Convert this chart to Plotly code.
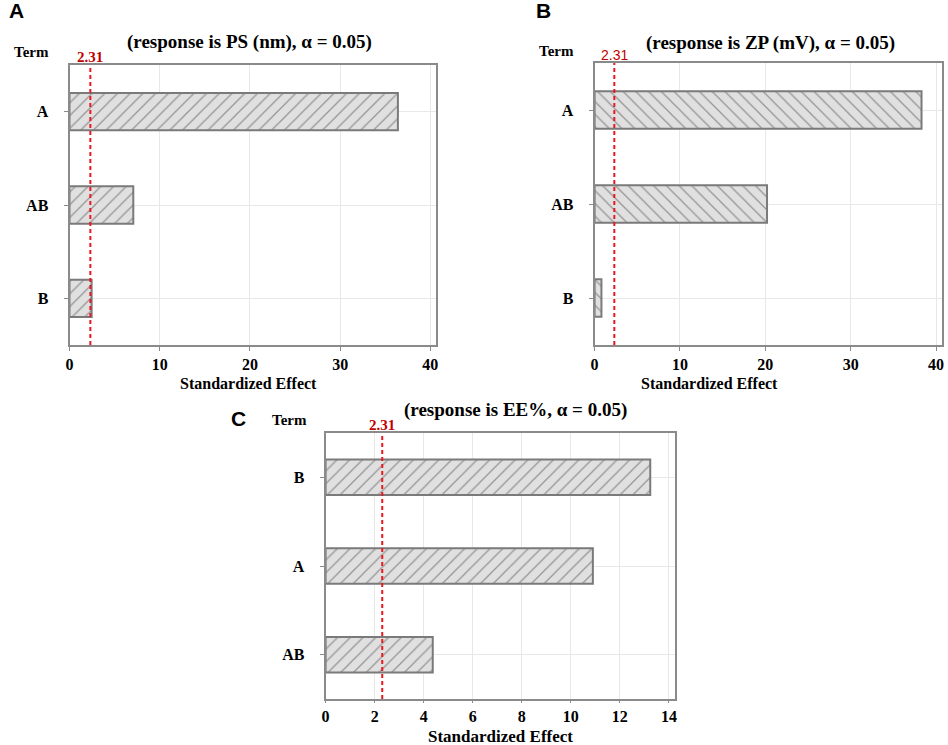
import plotly.graph_objects as go

# panel A: response PS (nm)
terms_a = ['A', 'AB', 'B']
effect_a = [36.4, 7.07, 2.45]
# panel B: response ZP (mV)
terms_b = ['A', 'AB', 'B']
effect_b = [38.3, 20.2, 0.8]
# panel C: response EE%
terms_c = ['B', 'A', 'AB']
effect_c = [13.24, 10.9, 4.37]

crit = 2.31
ticks_ab = [0, 10, 20, 30, 40]
ticks_c = [0, 2, 4, 6, 8, 10, 12, 14]

W, H = 948, 745
serif = 'Liberation Serif'
sans = 'Liberation Sans'


def px(x):
    return x / W


def py(y):
    return 1 - y / H


panels = [
    dict(terms=terms_a, vals=effect_a, shape='/', xd=[px(66), px(435)], yd=[py(345), py(65)],
         xr=[0, 40.6], ticks=ticks_ab, ticklen=4, title='(response is PS (nm), α = 0.05)', tsize=19,
         tx=247, ty=42, termx=28, termy=52, letter='A', lx=13, ly=11, xt=246, xty=383, xtsize=16,
         critfont=serif, critbold=True, critsize=15, crity=57),
    dict(terms=terms_b, vals=effect_b, shape='\\', xd=[px(595), px(945)], yd=[py(345), py(63)],
         xr=[0, 40.7], ticks=ticks_ab, ticklen=4, title='(response is ZP (mV), α = 0.05)', tsize=19,
         tx=772, ty=43, termx=557, termy=51, letter='B', lx=544, ly=11, xt=711, xty=383, xtsize=16,
         critfont=sans, critbold=False, critsize=14, crity=55),
    dict(terms=terms_c, vals=effect_c, shape='/', xd=[px(324), px(676)], yd=[py(699), py(433)],
         xr=[0, 14.25], ticks=ticks_c, ticklen=2, title='(response is EE%, α = 0.05)', tsize=19,
         tx=515, ty=410, termx=288, termy=420, letter='C', lx=236, ly=418, xt=500, xty=736, xtsize=17,
         critfont=serif, critbold=True, critsize=15, crity=425),
]

fig = go.Figure()
annotations = []
shapes = []

for i, p in enumerate(panels):
    n = '' if i == 0 else str(i + 1)
    fig.add_trace(go.Bar(
        x=p['vals'], y=p['terms'], orientation='h', width=0.4,
        xaxis='x' + n, yaxis='y' + n,
        marker=dict(color='#e0e0e0', line=dict(color='#7a7a7a', width=2),
                    pattern=dict(shape=p['shape'], fgcolor='#4a4a4a', bgcolor='#e0e0e0',
                                 size=9, solidity=0.14)),
        showlegend=False,
    ))
    axis_common = dict(showline=True, linecolor='#8a8a8a', linewidth=2, mirror=True,
                       showgrid=True, gridcolor='#e8e8e8', zeroline=False,
                       ticks='outside', tickcolor='#8a8a8a',
                       tickfont=dict(family=serif, size=16, color='black', weight='bold'))
    fig.update_layout(**{
        'xaxis' + n: dict(domain=p['xd'], anchor='y' + n, range=p['xr'], tickvals=p['ticks'],
                          ticklen=p['ticklen'], **axis_common),
        'yaxis' + n: dict(domain=p['yd'], anchor='x' + n, autorange='reversed',
                          ticklen=4, ticklabelstandoff=12, **axis_common),
    })
    shapes.append(dict(type='line', xref='x' + n, yref='y' + n + ' domain', x0=crit, x1=crit,
                       y0=0, y1=1, line=dict(color='#e8191e', width=2, dash='4px,3px')))
    crit_txt = '<b>2.31</b>' if p['critbold'] else '2.31'
    annotations += [
        dict(text='<b>' + p['title'] + '</b>', x=px(p['tx']), y=py(p['ty']),
             font=dict(family=serif, size=p['tsize'], color='black')),
        dict(text='<b>Term</b>', x=px(p['termx']), y=py(p['termy']),
             font=dict(family=serif, size=15, color='black')),
        dict(text=crit_txt, x=crit, xref='x' + n, y=py(p['crity']),
             font=dict(family=p['critfont'], size=p['critsize'], color='#c00000')),
        dict(text='<b>' + p['letter'] + '</b>', x=px(p['lx']), y=py(p['ly']),
             font=dict(family=sans, size=21, color='black')),
        dict(text='<b>Standardized Effect</b>', x=px(p['xt']), y=py(p['xty']),
             font=dict(family=serif, size=p['xtsize'], color='black')),
    ]

for a in annotations:
    a.setdefault('xref', 'paper')
    a['yref'] = 'paper'
    a['showarrow'] = False
    a['xanchor'] = 'center'
    a['yanchor'] = 'middle'

fig.update_layout(
    width=W, height=H, margin=dict(l=0, r=0, t=0, b=0),
    plot_bgcolor='white', paper_bgcolor='white',
    annotations=annotations, shapes=shapes, bargap=0.6,
)

# drop the default page margin so the figure sits at the window's corner
fig.write_html('out.html', config={'displayModeBar': False},
               post_script="document.body.style.margin='0';document.body.style.overflow='hidden';")
